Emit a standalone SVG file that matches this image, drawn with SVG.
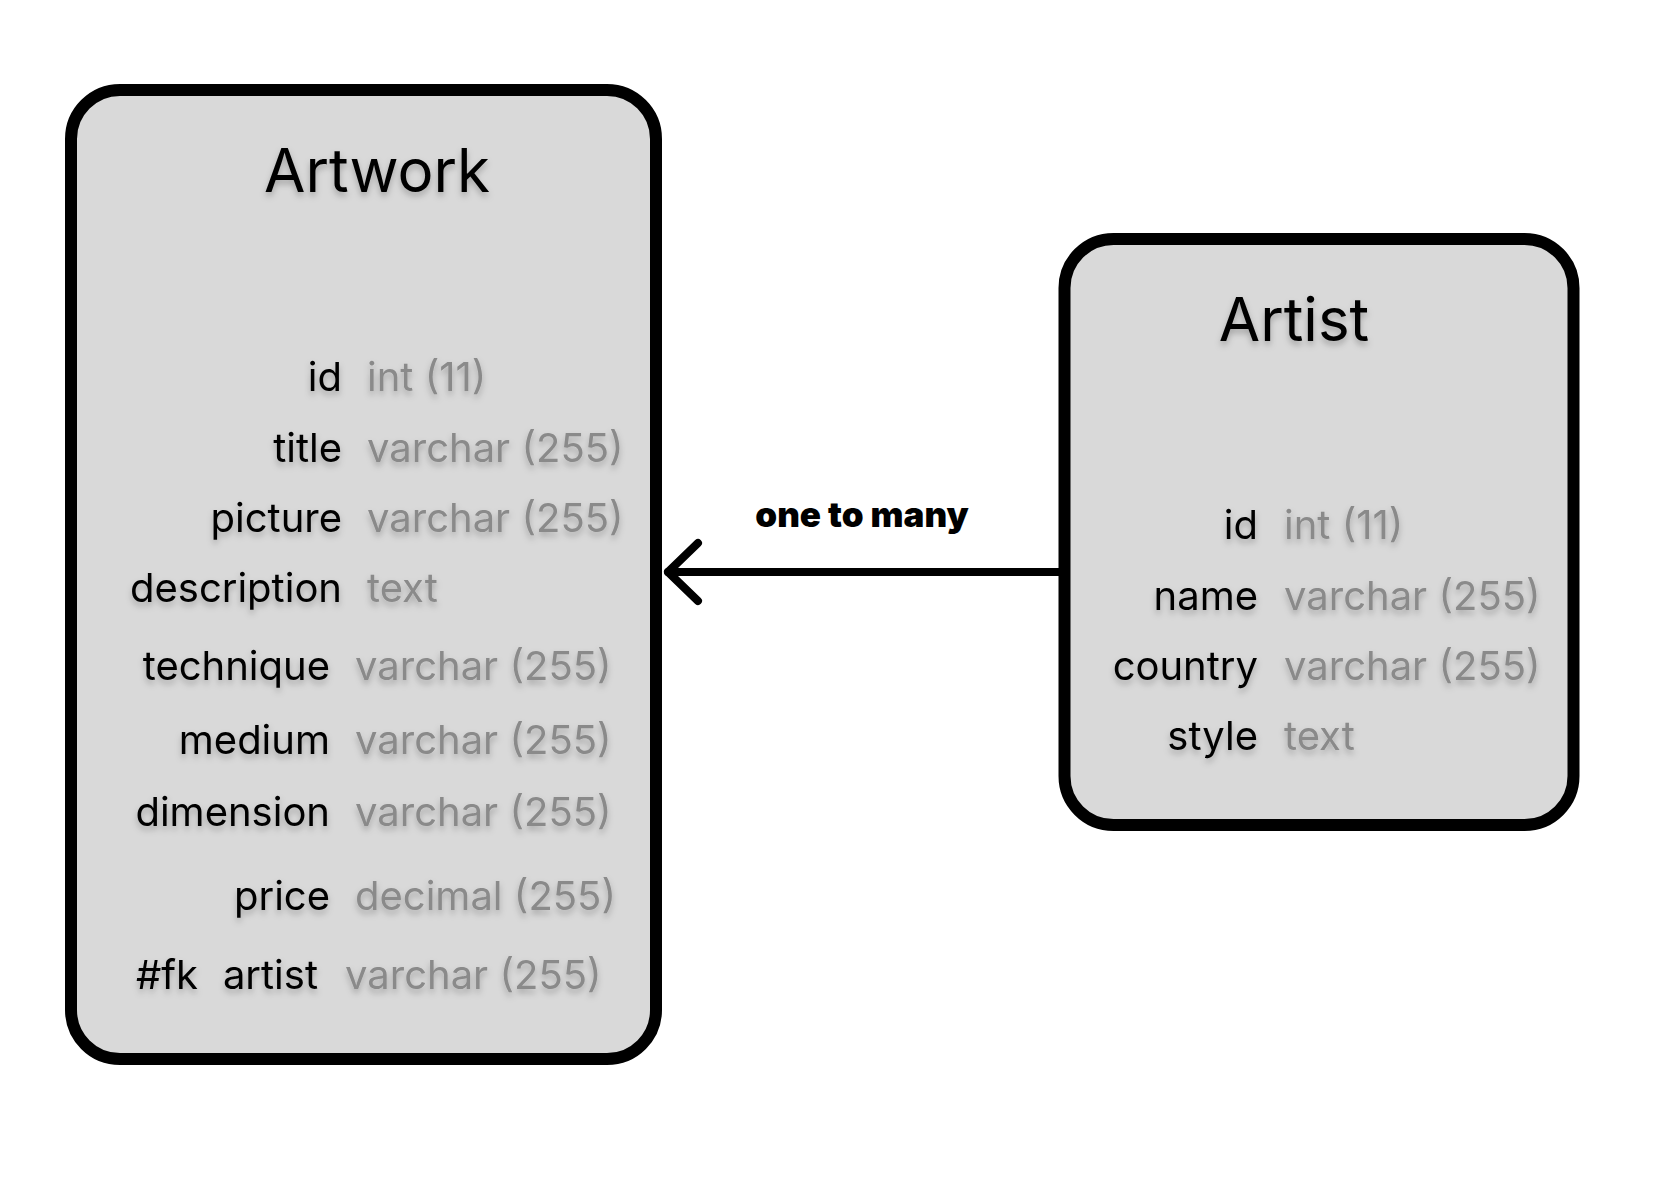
<svg xmlns="http://www.w3.org/2000/svg" width="1664" height="1178" viewBox="0 0 1664 1178">
<defs>
<filter id="ts" x="-10%" y="-30%" width="120%" height="180%">
<feDropShadow dx="0" dy="4" stdDeviation="3" flood-color="#000" flood-opacity="0.25"/>
</filter>
</defs>
<style>
.box{fill:#D9D9D9;stroke:#000;stroke-width:12}
.title{font-family:Inter,"Liberation Sans",sans-serif;font-size:60px;fill:#000;filter:url(#ts)}
.f{font-family:Inter,"Liberation Sans",sans-serif;font-size:40px;fill:#000;text-anchor:end;filter:url(#ts)}
.t{font-family:Inter,"Liberation Sans",sans-serif;font-size:40px;fill:#8a8a8a;filter:url(#ts)}
.lbl{font-family:Inter,"Liberation Sans",sans-serif;font-size:35px;font-weight:900;fill:#000}
.conn{fill:none;stroke:#000;stroke-width:8;stroke-linecap:round;stroke-linejoin:round}
</style>
<rect width="1664" height="1178" fill="#fff"/>
<g id="artwork">
<rect class="box" x="71" y="90" width="585" height="969" rx="49"/>
<text class="title" x="377" y="192" text-anchor="middle">Artwork</text>
<text class="f" x="342" y="391">id</text><text class="t" x="367" y="391">int (11)</text>
<text class="f" x="342" y="462">title</text><text class="t" x="367" y="462">varchar (255)</text>
<text class="f" x="342" y="532">picture</text><text class="t" x="367" y="532">varchar (255)</text>
<text class="f" x="342" y="602">description</text><text class="t" x="367" y="602">text</text>
<text class="f" x="330" y="680">technique</text><text class="t" x="355" y="680">varchar (255)</text>
<text class="f" x="330" y="754">medium</text><text class="t" x="355" y="754">varchar (255)</text>
<text class="f" x="330" y="826">dimension</text><text class="t" x="355" y="826">varchar (255)</text>
<text class="f" x="330" y="910">price</text><text class="t" x="355" y="910">decimal (255)</text>
<text class="f" x="198" y="989">#fk</text><text class="f" x="318" y="989">artist</text><text class="t" x="345" y="989">varchar (255)</text>
</g>
<g id="artist">
<rect class="box" x="1064.5" y="239" width="509" height="586" rx="49"/>
<text class="title" x="1294" y="341" text-anchor="middle">Artist</text>
<text class="f" x="1258" y="539">id</text><text class="t" x="1284" y="539">int (11)</text>
<text class="f" x="1258" y="610">name</text><text class="t" x="1284" y="610">varchar (255)</text>
<text class="f" x="1258" y="680">country</text><text class="t" x="1284" y="680">varchar (255)</text>
<text class="f" x="1258" y="750">style</text><text class="t" x="1284" y="750">text</text>
</g>
<g id="connectors">
<line class="conn" x1="1060" y1="572" x2="668" y2="572" stroke-linecap="butt"/>
<polyline class="conn" points="698,543 668,572 698,601"/>
<text class="lbl" x="862" y="527" text-anchor="middle">one to many</text>
</g>
</svg>
